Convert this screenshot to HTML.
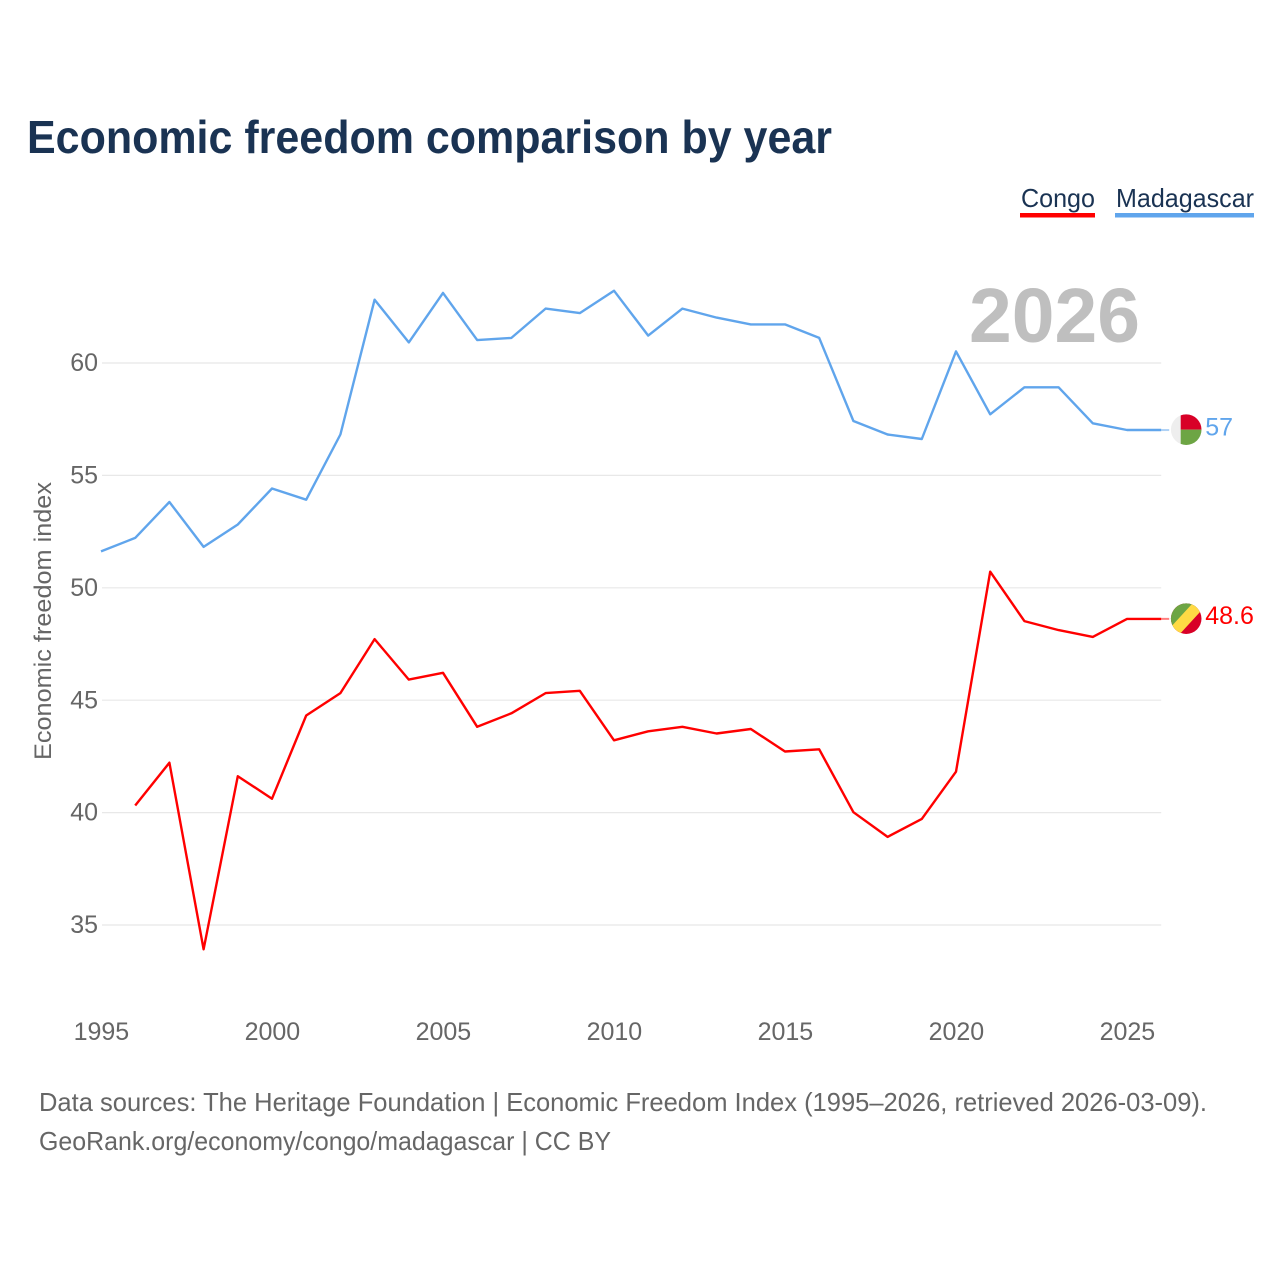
<!DOCTYPE html>
<html lang="en">
<head>
<meta charset="utf-8">
<title>Economic freedom comparison by year</title>
<style>
  html, body { margin: 0; padding: 0; background: #fff; }
  svg { display: block; font-family: "Liberation Sans", sans-serif; }
</style>
</head>
<body>
<svg id="chart" xmlns="http://www.w3.org/2000/svg" width="1280" height="1280" viewBox="0 0 1280 1280">
  <rect width="1280" height="1280" fill="#fff"/>
  <defs>
    <clipPath id="clip-flag"><circle cx="0" cy="0" r="15.3"/></clipPath>
  </defs>
  <text x="27" y="153" font-size="46" font-weight="700" fill="#1a3353" textLength="805" lengthAdjust="spacingAndGlyphs">Economic freedom comparison by year</text>

  <g>
    <g>
      <text x="1021" y="207" font-size="26" fill="#1a3353" textLength="74" lengthAdjust="spacingAndGlyphs">Congo</text>
      <rect x="1020" y="213" width="75" height="4.5" fill="#ff0000"/>
    </g>
    <g>
      <text x="1116" y="207" font-size="26" fill="#1a3353" textLength="138" lengthAdjust="spacingAndGlyphs">Madagascar</text>
      <rect x="1115" y="213" width="139" height="4.5" fill="#60a5ec"/>
    </g>
  </g>

  <g id="grid"></g>
  <text x="969" y="342" font-size="77" font-weight="700" fill="#bfbfbf" textLength="171" lengthAdjust="spacingAndGlyphs">2026</text>
  <g id="yticks"></g>
  <g id="xticks"></g>
  <text transform="translate(51,760) rotate(-90)" x="0" y="0" font-size="24" fill="#666" textLength="278" lengthAdjust="spacingAndGlyphs">Economic freedom index</text>
  <g id="series"></g>

  <g id="flag-madagascar" clip-path="url(#clip-flag)">
    <rect x="-16" y="-16" width="32" height="32" fill="#eeeeee"/>
    <rect x="-5.5" y="-16" width="22" height="16" fill="#d80027"/>
    <rect x="-5.5" y="0" width="22" height="16" fill="#6da544"/>
  </g>
  <g id="flag-congo" clip-path="url(#clip-flag)">
    <rect x="-16" y="-16" width="32" height="32" fill="#d80027"/>
    <polygon points="-16,-16 16,-16 -16,16" fill="#6da544"/>
    <polygon points="7,-16 16,-9 -7,16 -16,9" fill="#ffda44"/>
  </g>

  <text x="39" y="1111" font-size="26" fill="#666" textLength="1168" lengthAdjust="spacingAndGlyphs">Data sources: The Heritage Foundation | Economic Freedom Index (1995–2026, retrieved 2026-03-09).</text>
  <text x="39" y="1150" font-size="26" fill="#666" textLength="572" lengthAdjust="spacingAndGlyphs">GeoRank.org/economy/congo/madagascar | CC BY</text>
</svg>
<script>
const years = [1995,1996,1997,1998,1999,2000,2001,2002,2003,2004,2005,2006,2007,2008,2009,2010,2011,2012,2013,2014,2015,2016,2017,2018,2019,2020,2021,2022,2023,2024,2025,2026];
const madagascarValues = [51.6,52.2,53.8,51.8,52.8,54.4,53.9,56.8,62.8,60.9,63.1,61.0,61.1,62.4,62.2,63.2,61.2,62.4,62.0,61.7,61.7,61.1,57.4,56.8,56.6,60.5,57.7,58.9,58.9,57.3,57.0,57.0];
const congoValues = [null,40.3,42.2,33.9,41.6,40.6,44.3,45.3,47.7,45.9,46.2,43.8,44.4,45.3,45.4,43.2,43.6,43.8,43.5,43.7,42.7,42.8,40.0,38.9,39.7,41.8,50.7,48.5,48.1,47.8,48.6,48.6];
const yTickValues = [35,40,45,50,55,60];
const xTickValues = [1995,2000,2005,2010,2015,2020,2025];

const NS = 'http://www.w3.org/2000/svg';
const xScale = function (year) { return 101 + (year - 1995) * 34.2; };
const yScale = function (value) { return 362.6 + (60 - value) * 22.48; };
const xEnd = xScale(years[years.length - 1]);

function make(tag, parent, attrs, text) {
  const el = document.createElementNS(NS, tag);
  Object.keys(attrs).forEach(function (k) { el.setAttribute(k, attrs[k]); });
  if (text !== undefined) el.textContent = text;
  parent.appendChild(el);
  return el;
}

const grid = document.getElementById('grid');
const yticks = document.getElementById('yticks');
const xticks = document.getElementById('xticks');
const seriesLayer = document.getElementById('series');
const svgRoot = document.getElementById('chart');

yTickValues.forEach(function (v) {
  const line = make('line', grid, { x1: 102, x2: xEnd, y1: yScale(v) + 0.4, y2: yScale(v) + 0.4, stroke: '#e8e8e8', 'stroke-width': 1.2 });
  
  
  const label = make('text', yticks, { x: 98, y: yScale(v) + 8.5, 'font-size': 25, fill: '#666', 'text-anchor': 'end' }, String(v));
  
  
});

xTickValues.forEach(function (yr) {
  const label = make('text', xticks, { x: xScale(yr) + 0.4, y: 1040, 'font-size': 25, fill: '#666', 'text-anchor': 'middle' }, String(yr));
  
  
});

function buildPoints(values) {
  const pts = [];
  values.forEach(function (v, i) {
    if (v !== null) pts.push(xScale(years[i]).toFixed(1) + ',' + yScale(v).toFixed(1));
  });
  return pts.join(' ');
}

const congoLine = make('polyline', seriesLayer, { points: buildPoints(congoValues), fill: 'none', stroke: '#ff0000', 'stroke-width': 2.4, 'stroke-linejoin': 'round' });



const madagascarLine = make('polyline', seriesLayer, { points: buildPoints(madagascarValues), fill: 'none', stroke: '#60a5ec', 'stroke-width': 2.4, 'stroke-linejoin': 'round' });



const lastCongo = congoValues[congoValues.length - 1];
const lastMadagascar = madagascarValues[madagascarValues.length - 1];

const congoConnector = make('line', seriesLayer, { x1: xEnd, x2: xEnd + 8, y1: yScale(lastCongo), y2: yScale(lastCongo), stroke: '#ff0000', 'stroke-width': 2, opacity: 0.5 });



const madagascarConnector = make('line', seriesLayer, { x1: xEnd, x2: xEnd + 8, y1: yScale(lastMadagascar), y2: yScale(lastMadagascar), stroke: '#60a5ec', 'stroke-width': 2, opacity: 0.5 });



document.getElementById('flag-congo').setAttribute('transform', 'translate(' + (xEnd + 25) + ',' + (yScale(lastCongo) - 0.2) + ')');
document.getElementById('flag-madagascar').setAttribute('transform', 'translate(' + (xEnd + 25) + ',' + (yScale(lastMadagascar) - 0.4) + ')');

const congoEndLabel = make('text', svgRoot, { x: xEnd + 44, y: yScale(lastCongo) + 5, 'font-size': 25, fill: '#ff0000' }, String(lastCongo));



const madagascarEndLabel = make('text', svgRoot, { x: xEnd + 44, y: yScale(lastMadagascar) + 5.5, 'font-size': 25, fill: '#60a5ec' }, String(lastMadagascar));


</script>
</body>
</html>
